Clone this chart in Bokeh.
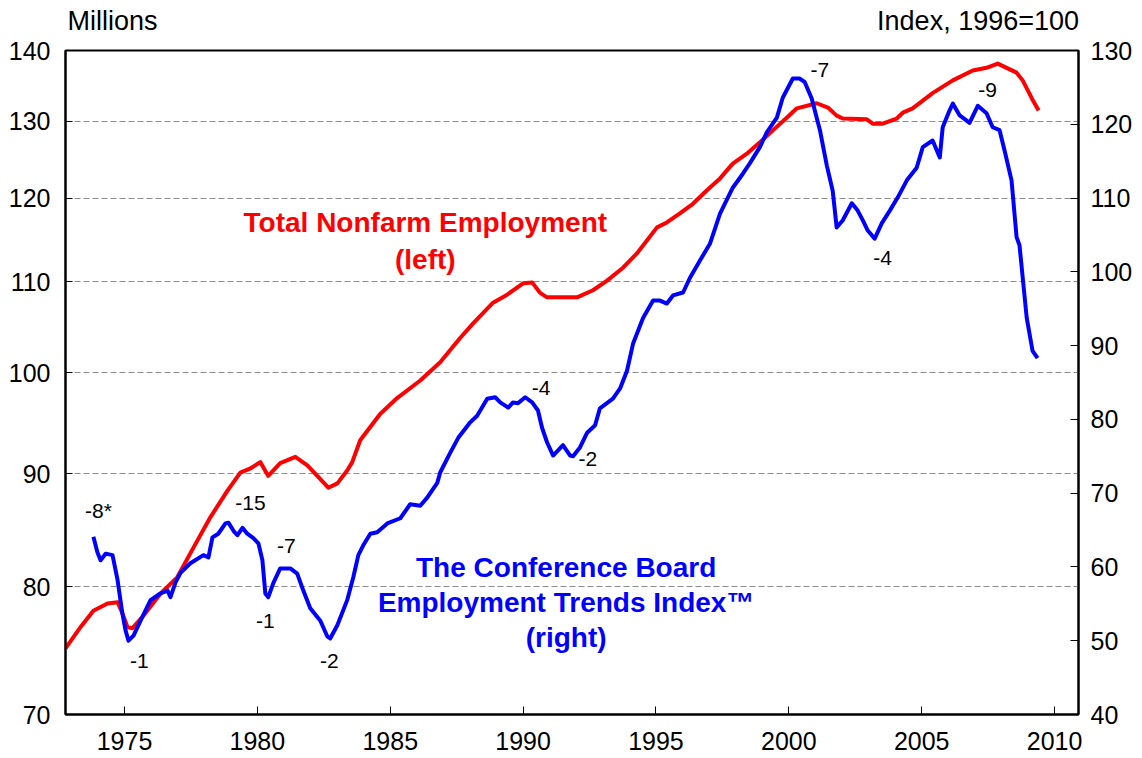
from bokeh.plotting import figure
from bokeh.models import (Range1d, LinearScale, LinearAxis, FixedTicker,
                          PrintfTickFormatter, ColumnDataSource)
from bokeh.core.properties import value
from bokeh.embed import file_html
from bokeh.resources import INLINE

FONT = "Liberation Sans"

# ---------------- data ----------------
x_ticks = [1975, 1980, 1985, 1990, 1995, 2000, 2005, 2010]
left_ticks = [70, 80, 90, 100, 110, 120, 130, 140]
right_ticks = [40, 50, 60, 70, 80, 90, 100, 110, 120, 130]

# Total nonfarm employment, millions (left, log scale)
red_years = [1972.78, 1973.35, 1973.83, 1974.36, 1974.74, 1974.92, 1975.11, 1975.30, 1975.71, 1976.35,
             1976.99, 1977.59, 1978.23, 1978.87, 1979.36, 1979.74, 1980.11, 1980.41, 1980.86, 1981.43,
             1981.88, 1982.29, 1982.67, 1983.01, 1983.38, 1983.57, 1983.87, 1984.62, 1985.26, 1986.13,
             1986.88, 1987.63, 1988.12, 1988.87, 1989.40, 1990.00, 1990.34, 1990.64, 1990.90, 1991.28,
             1992.03, 1992.63, 1993.16, 1993.76, 1994.29, 1995.04, 1995.41, 1995.90, 1996.39, 1996.92,
             1997.41, 1997.89, 1998.42, 1998.91, 1999.40, 1999.92, 2000.30, 2001.05, 2001.47, 2001.80,
             2002.03, 2002.93, 2003.16, 2003.53, 2004.06, 2004.29, 2004.66, 2005.41, 2006.17, 2006.92,
             2007.44, 2007.86, 2008.57, 2008.80, 2009.14, 2009.40]
red_values = [75.0, 76.7, 78.0, 78.6, 78.7, 77.8, 76.7, 76.6, 77.6, 79.4,
              80.8, 83.3, 86.0, 88.4, 90.1, 90.5, 91.1, 89.8, 91.0, 91.6,
              90.8, 89.7, 88.7, 89.1, 90.3, 91.1, 93.2, 95.8, 97.4, 99.2,
              101.1, 103.7, 105.3, 107.6, 108.5, 109.8, 109.9, 108.7, 108.2, 108.2,
              108.2, 109.0, 110.1, 111.6, 113.3, 116.4, 117.0, 118.1, 119.3, 121.0,
              122.5, 124.4, 125.7, 127.2, 128.8, 130.5, 131.8, 132.5, 131.9, 130.8,
              130.4, 130.3, 129.7, 129.7, 130.4, 131.2, 131.8, 133.9, 135.7, 137.1,
              137.5, 138.1, 136.8, 135.7, 133.2, 131.5]

# Employment Trends Index, 1996=100 (right)
blue_years = [1973.83, 1973.98, 1974.10, 1974.29, 1974.55, 1974.74, 1974.92, 1975.04, 1975.15, 1975.34,
              1975.60, 1975.98, 1976.35, 1976.62, 1976.73, 1976.92, 1977.11, 1977.48, 1977.97, 1978.16,
              1978.31, 1978.53, 1978.80, 1978.91, 1979.10, 1979.25, 1979.44, 1979.62, 1979.85, 1980.04,
              1980.19, 1980.30, 1980.41, 1980.60, 1980.86, 1981.24, 1981.50, 1981.73, 1981.99, 1982.37,
              1982.63, 1982.74, 1983.01, 1983.38, 1983.61, 1983.80, 1983.98, 1984.25, 1984.51, 1984.89,
              1985.38, 1985.75, 1986.13, 1986.39, 1986.77, 1986.88, 1987.26, 1987.56, 1988.01, 1988.27,
              1988.65, 1988.95, 1989.14, 1989.44, 1989.62, 1989.81, 1990.08, 1990.34, 1990.56, 1990.71,
              1990.90, 1991.13, 1991.50, 1991.77, 1991.88, 1992.14, 1992.41, 1992.71, 1992.89, 1993.38,
              1993.65, 1993.91, 1994.14, 1994.51, 1994.89, 1995.15, 1995.41, 1995.64, 1996.02, 1996.28,
              1996.65, 1997.03, 1997.41, 1997.89, 1998.27, 1998.53, 1998.91, 1999.17, 1999.55, 1999.77,
              2000.15, 2000.41, 2000.60, 2000.86, 2001.17, 2001.43, 2001.65, 2001.80, 2002.03, 2002.37,
              2002.59, 2002.78, 2002.97, 2003.23, 2003.50, 2003.80, 2004.10, 2004.44, 2004.81, 2005.04,
              2005.41, 2005.68, 2005.79, 2006.05, 2006.17, 2006.43, 2006.80, 2007.11, 2007.44, 2007.67,
              2007.93, 2008.12, 2008.38, 2008.57, 2008.68, 2008.95, 2009.17, 2009.36]
blue_values = [64.1, 62.0, 60.9, 61.8, 61.6, 58.2, 53.7, 51.4, 50.0, 50.7,
               52.7, 55.5, 56.4, 56.8, 55.9, 57.9, 59.2, 60.5, 61.6, 61.3,
               64.0, 64.5, 65.9, 66.0, 64.9, 64.3, 65.3, 64.5, 63.9, 63.2,
               60.9, 56.4, 55.9, 57.8, 59.8, 59.8, 59.1, 56.8, 54.4, 52.7,
               50.6, 50.3, 52.1, 55.5, 58.6, 61.6, 62.9, 64.5, 64.7, 65.9,
               66.6, 68.5, 68.3, 69.4, 71.4, 72.8, 75.5, 77.5, 79.6, 80.5,
               82.8, 83.0, 82.3, 81.6, 82.3, 82.2, 83.0, 82.3, 81.2, 78.9,
               76.9, 75.1, 76.5, 75.1, 75.0, 76.2, 78.2, 79.2, 81.5, 82.8,
               84.2, 86.6, 90.3, 93.7, 96.1, 96.1, 95.7, 96.8, 97.2, 99.2,
               101.5, 103.8, 107.9, 111.4, 113.3, 114.7, 116.9, 118.9, 120.9, 123.6,
               126.2, 126.2, 125.7, 123.5, 119.2, 114.4, 111.0, 106.0, 107.0, 109.3,
               108.3, 107.0, 105.6, 104.5, 106.6, 108.3, 110.1, 112.4, 114.1, 116.9,
               117.8, 115.5, 119.6, 121.9, 122.8, 121.2, 120.2, 122.5, 121.5, 119.6,
               119.2, 116.4, 112.4, 104.7, 103.6, 93.8, 89.3, 88.3]

# annotations (in right-axis units)
ann_text = ["-8*", "-1", "-15", "-1", "-7", "-2", "-4", "-2", "-7", "-4", "-9"]
ann_x = [1974.02, 1975.56, 1979.74, 1980.30, 1981.09, 1982.71, 1990.68, 1992.44, 2001.17, 2003.53, 2007.48]
ann_y = [67.7, 47.2, 68.6, 52.7, 62.8, 47.2, 84.2, 74.6, 127.4, 101.9, 124.7]

series_text = ["Total Nonfarm Employment", "(left)",
               "The Conference Board", "Employment Trends Index\u2122", "(right)"]
series_x = [1986.32, 1986.32, 1991.62, 1991.62, 1991.62]
series_y = [106.7, 101.7, 59.9, 55.2, 50.4]
series_color = ["#ff0000", "#ff0000", "#0000ff", "#0000ff", "#0000ff"]

# unit captions above the frame (text centres along the year axis)
unit_text = ["Millions", "Index, 1996=100"]
unit_x = [1974.55, 2007.12]

# ---------------- figure ----------------
p = figure(frame_width=1013, frame_height=664, y_axis_type="log",
           x_range=Range1d(1972.78, 2010.9), y_range=Range1d(70, 140),
           output_backend="svg", toolbar_location=None,
           min_border_left=65, min_border_right=60, min_border_top=50, min_border_bottom=44,
           background_fill_color="white", border_fill_color="white")
p.extra_y_ranges = {"right": Range1d(40, 130)}
p.extra_y_scales = {"right": LinearScale()}

p.outline_line_color = "black"
p.outline_line_width = 2
p.outline_line_alpha = 1

p.xgrid.visible = False
p.ygrid.ticker = FixedTicker(ticks=left_ticks)
p.ygrid.grid_line_color = "#8c8c8c"
p.ygrid.grid_line_dash = "6 3"
p.ygrid.grid_line_width = 1

def style_axis(ax):
    ax.axis_line_color = "black"
    ax.axis_line_width = 2
    ax.major_tick_line_color = "black"
    ax.major_tick_line_width = 1
    ax.major_tick_in = 8
    ax.major_tick_out = 0
    ax.minor_tick_line_color = None
    ax.major_label_text_font = FONT
    ax.major_label_text_font_size = "25px"
    ax.major_label_text_color = "black"

xa = p.xaxis[0]
style_axis(xa)
xa.ticker = FixedTicker(ticks=x_ticks)
xa.major_label_standoff = 17

ya = p.yaxis[0]
style_axis(ya)
ya.ticker = FixedTicker(ticks=left_ticks)
ya.formatter = PrintfTickFormatter(format="%d")
ya.major_label_standoff = 15
ya.major_tick_in = 7

ra = LinearAxis(y_range_name="right", ticker=FixedTicker(ticks=right_ticks))
style_axis(ra)
ra.major_label_standoff = 12
p.add_layout(ra, "right")

# caption axis above the frame, carrying the two unit captions
ta = LinearAxis(ticker=FixedTicker(ticks=unit_x),
                major_label_overrides={unit_x[0]: unit_text[0], unit_x[1]: unit_text[1]})
ta.axis_line_color = None
ta.major_tick_line_color = None
ta.minor_tick_line_color = None
ta.major_tick_in = 0
ta.major_tick_out = 0
ta.major_label_standoff = 15
ta.major_label_text_font = FONT
ta.major_label_text_font_size = "27px"
ta.major_label_text_color = "black"
p.add_layout(ta, "above")

# lines
p.line(red_years, red_values, line_color="#ff0000", line_width=4, line_join="round")
p.line(blue_years, blue_values, line_color="#0000ff", line_width=4, line_join="round",
       y_range_name="right")

# annotations
ann_src = ColumnDataSource(dict(x=ann_x, y=ann_y, t=ann_text))
p.text(x="x", y="y", text="t", source=ann_src, y_range_name="right",
       text_font=value(FONT), text_font_size=value("21px"), text_color="black",
       text_align="center", text_baseline="middle")

ser_src = ColumnDataSource(dict(x=series_x, y=series_y, t=series_text, c=series_color))
p.text(x="x", y="y", text="t", source=ser_src, y_range_name="right",
       text_font=value(FONT), text_font_size=value("28px"), text_font_style="bold",
       text_color="c", text_align="center", text_baseline="middle")

open("out.html", "w").write(file_html(p, INLINE))
